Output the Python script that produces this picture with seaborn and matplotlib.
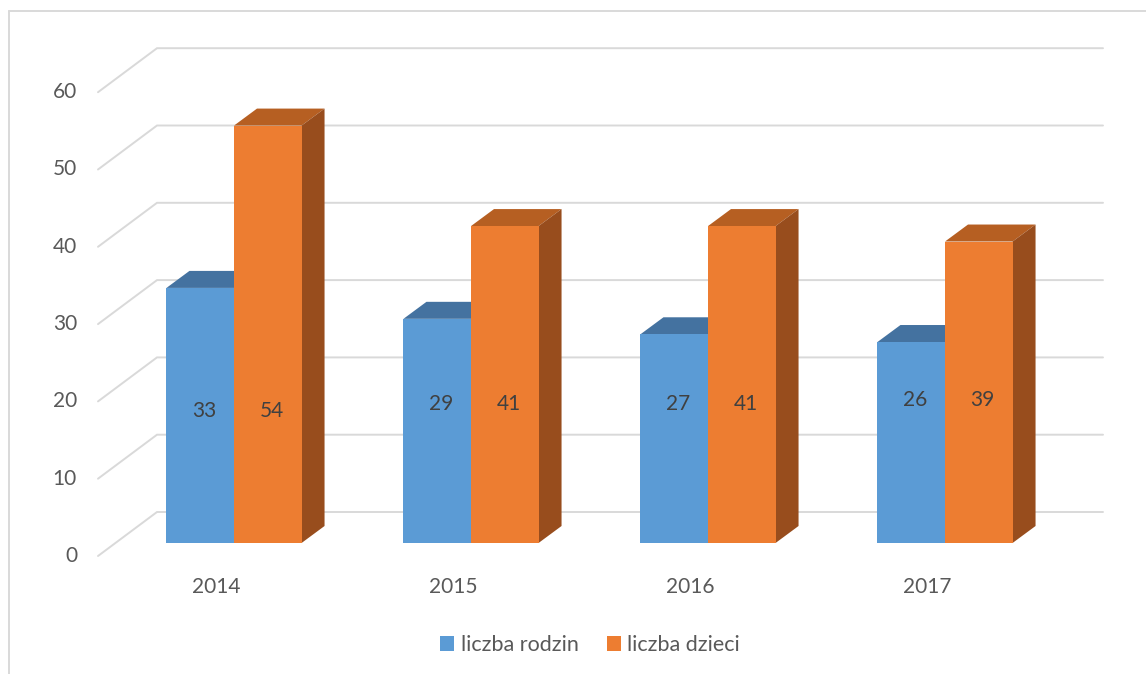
import matplotlib
matplotlib.use("Agg")
import matplotlib.pyplot as plt
import pandas as pd
import seaborn as sns
from matplotlib.lines import Line2D
from matplotlib.patches import Polygon

# --- data ---
years = ["2014", "2015", "2016", "2017"]
liczba_rodzin = [33, 29, 27, 26]
liczba_dzieci = [54, 41, 41, 39]
series_names = ["liczba rodzin", "liczba dzieci"]
y_ticks = [0, 10, 20, 30, 40, 50, 60]

# --- layout (pixels of the 1146x674 canvas) ---
W, H = 1146, 674
PX_PER_CAT = 237.0       # distance between category centres
CAT0_PX = 234.0          # x pixel of the first category centre
PX_PER_UNIT = 7.73       # vertical pixels per value unit
BASE_PX = 543.0          # y pixel of bar fronts at value 0
FRONT_DEPTH = 13.0       # floor front edge, px below bar fronts
BACK_DEPTH = 31.0        # back wall, px above bar fronts
BAR_DX, BAR_DY = 23.0, 17.0
label_heights = [17.1, 18.0, 18.0, 18.5]
FS = 15

BLUE, ORANGE = "#5B9BD5", "#ED7D31"
BLUE_TOP, BLUE_SIDE = "#4472A0", "#3C6690"
ORANGE_TOP, ORANGE_SIDE = "#B65F22", "#984D1D"
GRID = "#D9D9D9"
TEXT = "#595959"


def px_x(px: float) -> float:
    return (px - CAT0_PX) / PX_PER_CAT


def px_h(px: float) -> float:
    return px / PX_PER_UNIT


df = pd.DataFrame(
    {
        "rok": years * 2,
        "liczba": liczba_rodzin + liczba_dzieci,
        "seria": [series_names[0]] * len(years) + [series_names[1]] * len(years),
    }
)

sns.set_theme(style="white")
plt.rcParams["font.family"] = ["Lato", "DejaVu Sans"]

fig = plt.figure(figsize=(W / 100, H / 100), dpi=100)
ax = fig.add_axes([0, 0, 1, 1])

sns.barplot(
    data=df, x="rok", y="liczba", hue="seria", hue_order=series_names,
    palette=[BLUE, ORANGE], saturation=1, width=0.57, linewidth=0,
    errorbar=None, legend=False, ax=ax,
)

ax.set_xlim(px_x(0), px_x(W))
ax.set_ylim(-px_h(H - BASE_PX), px_h(BASE_PX))
ax.set_axis_off()

# back wall grid with the diagonal run on the left side wall
dy_front = -px_h(FRONT_DEPTH)
dy_back = px_h(BACK_DEPTH)
for v in y_ticks:
    ax.plot(
        [px_x(98), px_x(157), px_x(1103)],
        [v + dy_front, v + dy_back, v + dy_back],
        color=GRID, lw=1.4, zorder=0.5, solid_joinstyle="miter",
    )
    ax.text(px_x(77), v + dy_front, str(v), ha="right", va="center",
            fontsize=FS, color=TEXT)

# fake 3D: top and side faces for every bar
ddx = BAR_DX / PX_PER_CAT
ddy = px_h(BAR_DY)
shades = [(BLUE_TOP, BLUE_SIDE), (ORANGE_TOP, ORANGE_SIDE)]
for container, (top_c, side_c) in zip(ax.containers, shades):
    for bar in container:
        x0 = bar.get_x()
        x1 = x0 + bar.get_width()
        h = bar.get_height()
        bar.set_zorder(3)
        ax.add_patch(Polygon([(x0, h), (x1, h), (x1 + ddx, h + ddy), (x0 + ddx, h + ddy)],
                             closed=True, facecolor=top_c, edgecolor="none", zorder=2))
        ax.add_patch(Polygon([(x1, 0), (x1 + ddx, ddy), (x1 + ddx, h + ddy), (x1, h)],
                             closed=True, facecolor=side_c, edgecolor="none", zorder=2))

# value labels inside the bars
for container in ax.containers:
    for i, bar in enumerate(container):
        ax.text(bar.get_x() + bar.get_width() / 2 + 4 / PX_PER_CAT, label_heights[i],
                f"{bar.get_height():.0f}", ha="center", va="center",
                fontsize=FS, color="#404040", zorder=4)

# category labels sit on the front edge of the floor
shift = px_x(CAT0_PX - 17.5)
for i, year in enumerate(years):
    ax.text(i + shift, -px_h(587 - BASE_PX), year, ha="center", va="center",
            fontsize=FS, color=TEXT)

handles = [plt.Rectangle((0, 0), 1, 1, facecolor=c, edgecolor="none") for c in (BLUE, ORANGE)]
fig.legend(
    handles, series_names, loc="center", bbox_to_anchor=(590 / W, 1 - 645 / H),
    ncol=2, frameon=False, fontsize=15.5, labelcolor=TEXT,
    handlelength=0.65, handleheight=0.65, handletextpad=0.3, columnspacing=1.3,
)

# chart border (only top and left edges are inside the crop)
fig.add_artist(Line2D([9 / W, 1], [1 - 11 / H, 1 - 11 / H], color=GRID, lw=1.4))
fig.add_artist(Line2D([9 / W, 9 / W], [0, 1 - 11 / H], color=GRID, lw=1.4))

fig.savefig("out.png", dpi=100)
plt.close(fig)
